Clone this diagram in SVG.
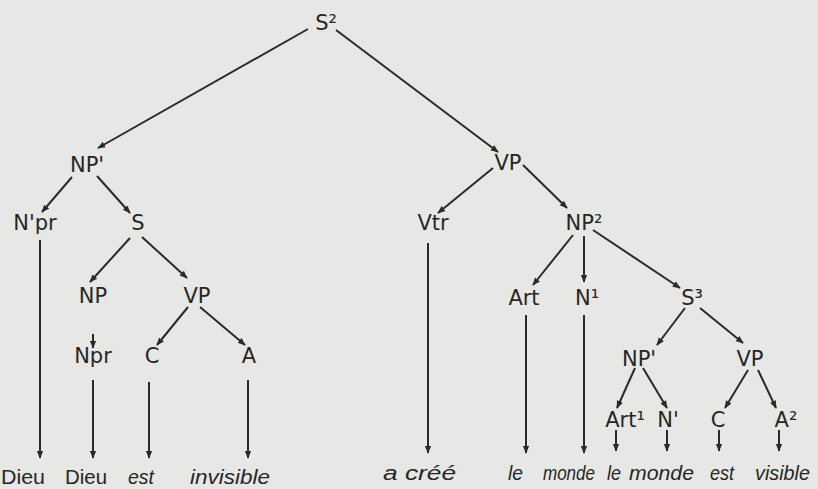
<svg xmlns="http://www.w3.org/2000/svg" width="818" height="489" viewBox="0 0 818 489">
<defs>
<style>
.bg{fill:#e7e7e5}
.lab{font-family:"DejaVu Sans","Liberation Sans",sans-serif;font-size:21px;fill:#262626;text-anchor:middle}
.word{font-family:"Liberation Sans","DejaVu Sans",sans-serif;font-size:20px;fill:#262626;font-style:italic}
.up{font-style:normal}
.edge{stroke:#2a2a2a;stroke-width:2;fill:none;marker-end:url(#ah)}
</style>
<marker id="ah" viewBox="0 0 10 10" refX="9" refY="5" markerWidth="4" markerHeight="4" orient="auto" markerUnits="strokeWidth">
<path d="M0,1 L10,5 L0,9 Z" fill="#2a2a2a"/>
</marker>
</defs>
<rect class="bg" x="0" y="0" width="818" height="489"/>

<g id="connectors">
<line class="edge" x1="308" y1="29" x2="98" y2="148"/>
<line class="edge" x1="336" y1="30" x2="498" y2="152"/>
<line class="edge" x1="72" y1="177" x2="42" y2="212"/>
<line class="edge" x1="97" y1="176" x2="130" y2="213"/>
<line class="edge" x1="130" y1="238" x2="90" y2="282"/>
<line class="edge" x1="142" y1="237" x2="187" y2="278"/>
<line class="edge" x1="93" y1="334" x2="93" y2="348"/>
<line class="edge" x1="188" y1="307" x2="157" y2="345"/>
<line class="edge" x1="200" y1="307" x2="245" y2="345"/>
<line class="edge" x1="40" y1="240" x2="40" y2="458"/>
<line class="edge" x1="93" y1="380" x2="93" y2="458"/>
<line class="edge" x1="149" y1="382" x2="149" y2="458"/>
<line class="edge" x1="248" y1="380" x2="248" y2="458"/>
<line class="edge" x1="493" y1="168" x2="438" y2="213"/>
<line class="edge" x1="523" y1="165" x2="567" y2="208"/>
<line class="edge" x1="428" y1="243" x2="428" y2="453"/>
<line class="edge" x1="573" y1="235" x2="533" y2="285"/>
<line class="edge" x1="584" y1="236" x2="584" y2="282"/>
<line class="edge" x1="593" y1="230" x2="680" y2="288"/>
<line class="edge" x1="526" y1="315" x2="526" y2="453"/>
<line class="edge" x1="584" y1="315" x2="584" y2="453"/>
<line class="edge" x1="685" y1="308" x2="657" y2="345"/>
<line class="edge" x1="700" y1="308" x2="743" y2="343"/>
<line class="edge" x1="635" y1="368" x2="617" y2="408"/>
<line class="edge" x1="643" y1="368" x2="667" y2="408"/>
<line class="edge" x1="748" y1="370" x2="725" y2="408"/>
<line class="edge" x1="758" y1="370" x2="776" y2="408"/>
<line class="edge" x1="616" y1="430" x2="616" y2="451"/>
<line class="edge" x1="667" y1="430" x2="667" y2="451"/>
<line class="edge" x1="719" y1="430" x2="719" y2="451"/>
<line class="edge" x1="779" y1="430" x2="779" y2="451"/>
</g>

<g id="n-S2"><text class="lab" x="326" y="30">S²</text></g>
<g id="n-NP1"><text class="lab" x="87" y="172">NP'</text></g>
<g id="n-VP"><text class="lab" x="508" y="170">VP</text></g>
<g id="n-Npr1"><text class="lab" x="35" y="230">N'pr</text></g>
<g id="n-S"><text class="lab" x="138" y="230">S</text></g>
<g id="n-Vtr"><text class="lab" x="433" y="230">Vtr</text></g>
<g id="n-NP2"><text class="lab" x="584" y="230">NP²</text></g>
<g id="n-NP"><text class="lab" x="93" y="303">NP</text></g>
<g id="n-VPa"><text class="lab" x="197" y="303">VP</text></g>
<g id="n-Art"><text class="lab" x="524" y="305">Art</text></g>
<g id="n-N1a"><text class="lab" x="587" y="305">N¹</text></g>
<g id="n-S3"><text class="lab" x="692" y="305">S³</text></g>
<g id="n-Npr"><text class="lab" x="93" y="363">Npr</text></g>
<g id="n-Ca"><text class="lab" x="152" y="363">C</text></g>
<g id="n-A"><text class="lab" x="249" y="363">A</text></g>
<g id="n-NP1b"><text class="lab" x="639" y="366">NP'</text></g>
<g id="n-VPb"><text class="lab" x="750" y="366">VP</text></g>
<g id="n-Art1"><text class="lab" x="625" y="427">Art¹</text></g>
<g id="n-N1b"><text class="lab" x="668" y="427">N'</text></g>
<g id="n-Cb"><text class="lab" x="718" y="427">C</text></g>
<g id="n-A2"><text class="lab" x="786" y="427">A²</text></g>

<g id="words">
<text class="word up" x="1" y="484" textLength="44" lengthAdjust="spacingAndGlyphs">Dieu</text>
<text class="word up" x="65" y="484" textLength="42" lengthAdjust="spacingAndGlyphs">Dieu</text>
<text class="word" x="128" y="484" textLength="26" lengthAdjust="spacingAndGlyphs">est</text>
<text class="word" x="190" y="484" textLength="80" lengthAdjust="spacingAndGlyphs">invisible</text>
<text class="word" x="383" y="480" textLength="73" lengthAdjust="spacingAndGlyphs">a créé</text>
<text class="word" x="508" y="480" textLength="15" lengthAdjust="spacingAndGlyphs">le</text>
<text class="word" x="543" y="480" textLength="52" lengthAdjust="spacingAndGlyphs">monde</text>
<text class="word" x="607" y="480" textLength="14" lengthAdjust="spacingAndGlyphs">le</text>
<text class="word" x="629" y="480" textLength="65" lengthAdjust="spacingAndGlyphs">monde</text>
<text class="word" x="710" y="480" textLength="24" lengthAdjust="spacingAndGlyphs">est</text>
<text class="word" x="755" y="480" textLength="55" lengthAdjust="spacingAndGlyphs">visible</text>
</g>
</svg>
